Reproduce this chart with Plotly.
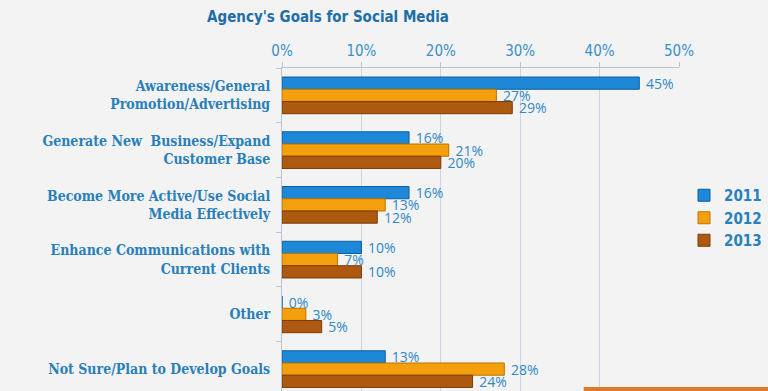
import plotly.graph_objects as go

categories = [
    "Awareness/General<br>Promotion/Advertising",
    "Generate New  Business/Expand<br>Customer Base",
    "Become More Active/Use Social<br>Media Effectively",
    "Enhance Communications with<br>Current Clients",
    "Other",
    "Not Sure/Plan to Develop Goals",
]
years = ["2011", "2012", "2013"]
v2011 = [45, 16, 16, 10, 0, 13]
v2012 = [27, 21, 13, 7, 3, 28]
v2013 = [29, 20, 12, 10, 5, 24]
tick_vals = [0, 10, 20, 30, 40, 50]

colors = ["#1d88d8", "#f4a00c", "#ad5a10"]
edge = ["#0f5e9c", "#b87400", "#7a3c06"]
series = [v2011, v2012, v2013]

text_blue = "#3089c6"
fig = go.Figure()
for name, vals, c, e in zip(years, series, colors, edge):
    fig.add_trace(go.Bar(
        y=categories, x=vals, name=name, orientation="h",
        marker=dict(color=c, line=dict(color=e, width=1)),
        text=[f" {v}%" for v in vals], textposition="outside",
        constraintext="none",
        textfont=dict(family="Open Sans", size=14, color=text_blue),
        cliponaxis=False,
    ))

fig.update_layout(
    width=768, height=391,
    paper_bgcolor="#f3f3f3", plot_bgcolor="#f3f3f3",
    margin=dict(l=282, r=89, t=68, b=0, autoexpand=False),
    barmode="group", bargap=0.33, bargroupgap=0,
    title=dict(text="<b>Agency's Goals for Social Media</b>", x=328/768, xanchor="center",
               xref="container", y=1 - 17/391, yanchor="middle", yref="container",
               font=dict(family="DejaVu Sans Condensed", size=15, color="#1f6ea8")),
    legend=dict(xref="container", yref="container", x=684/768, y=1 - 218/391,
                xanchor="left", yanchor="middle",
                font=dict(family="DejaVu Sans Condensed", size=15, color="#2a7fbd", weight="bold"),
                bgcolor="rgba(0,0,0,0)", tracegroupgap=4, itemwidth=30),
    showlegend=True,
)
fig.update_xaxes(side="top", range=[0, 50], tickvals=tick_vals,
                 ticktext=[f"{t}%" for t in tick_vals], automargin=False,
                 showgrid=True, gridcolor="#c9d5e2", gridwidth=1,
                 showline=True, linecolor="#b7c4d2", ticks="outside", ticklen=5,
                 tickcolor="#b7c4d2",
                 tickfont=dict(family="DejaVu Sans Condensed", size=15, color="#3a8fc8"),
                 zeroline=False)
fig.update_yaxes(categoryorder="array", categoryarray=categories, automargin=False,
                 range=[5.4, -0.5], showline=True, linecolor="#b7c4d2",
                 ticks="outside", tickson="boundaries", ticklen=5, tickcolor="#b7c4d2",
                 tickfont=dict(family="DejaVu Serif Condensed", size=14, color="#2a7fb8",
                               weight="bold"),
                 ticklabelstandoff=8)
fig.add_shape(type="rect", xref="paper", yref="paper", x0=0.76, x1=1.25, y0=0.0, y1=0.012,
              fillcolor="#e07a2a", line=dict(width=0), layer="above")
fig.write_html("out.html", config={"displayModeBar": False},
               post_script="document.body.style.margin='0';document.body.style.overflow='hidden';")
